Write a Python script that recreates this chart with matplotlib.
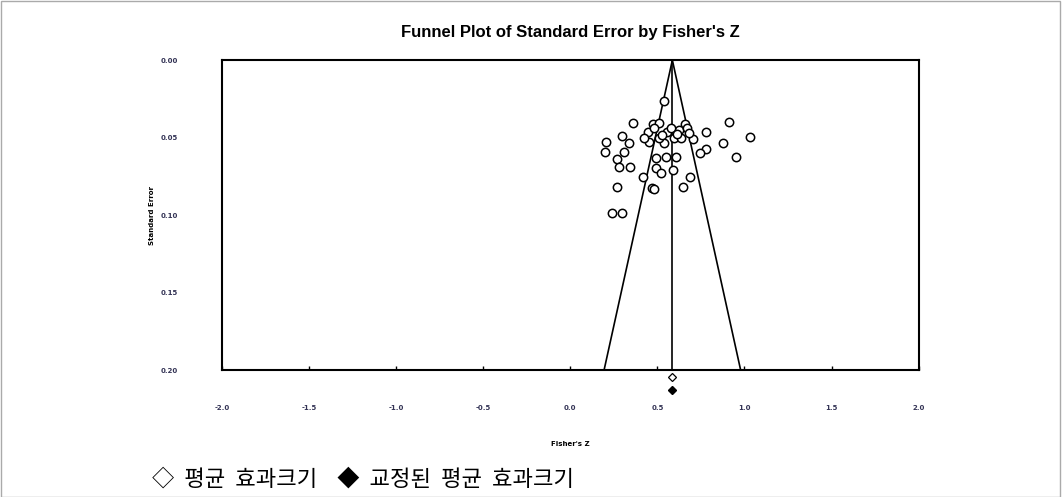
import matplotlib
matplotlib.use("Agg")
import matplotlib.pyplot as plt
from matplotlib.patches import Rectangle

# study effect sizes (Fisher's Z) and standard errors
fisher_z = [0.540, 0.362, 0.477, 0.511, 0.661, 0.914, 1.029, 0.782, 0.874, 0.954,
            0.782, 0.747, 0.707, 0.626, 0.557, 0.448, 0.299, 0.207, 0.201, 0.339,
            0.310, 0.270, 0.282, 0.345, 0.454, 0.540, 0.494, 0.552, 0.609, 0.494,
            0.523, 0.592, 0.420, 0.270, 0.471, 0.478, 0.649, 0.690, 0.241, 0.299,
            0.597, 0.638, 0.511, 0.483, 0.580, 0.672, 0.425, 0.615, 0.684, 0.529]
std_err = [0.0265, 0.0406, 0.0413, 0.0406, 0.0413, 0.0400, 0.0497, 0.0465, 0.0535, 0.0626,
           0.0574, 0.0600, 0.0510, 0.0452, 0.0465, 0.0465, 0.0490, 0.0529, 0.0594, 0.0535,
           0.0594, 0.0639, 0.0690, 0.0690, 0.0529, 0.0535, 0.0632, 0.0626, 0.0626, 0.0697,
           0.0729, 0.0710, 0.0755, 0.0819, 0.0826, 0.0830, 0.0819, 0.0755, 0.0987, 0.0987,
           0.0503, 0.0503, 0.0503, 0.0439, 0.0439, 0.0439, 0.0503, 0.0477, 0.0471, 0.0484]

mean_z = 0.586        # observed mean effect
adjusted_z = 0.586    # trim-and-fill adjusted mean
se_max = 0.20

x_ticks = [-2.0, -1.5, -1.0, -0.5, 0.0, 0.5, 1.0, 1.5, 2.0]
y_ticks = [0.00, 0.05, 0.10, 0.15, 0.20]

fig = plt.figure(figsize=(10.62, 4.97), dpi=100)
ax = fig.add_axes([0.209, 0.2555, 0.656, 0.6235])

# funnel and mean line
ax.plot([mean_z, mean_z], [0, se_max], color="black", lw=1.2)
ax.plot([mean_z, mean_z - 1.96 * se_max], [0, se_max], color="black", lw=1.2)
ax.plot([mean_z, mean_z + 1.96 * se_max], [0, se_max], color="black", lw=1.2)

ax.scatter(fisher_z, std_err, s=36, facecolors="white", edgecolors="black",
           linewidths=1.1, zorder=3)

# mean markers below the axis
ax.plot([mean_z], [0.2045], marker="D", ms=4, mfc="white", mec="black",
        mew=0.9, clip_on=False)
ax.plot([adjusted_z], [0.2129], marker="D", ms=4.5, mfc="black", mec="black",
        clip_on=False)

ax.set_xlim(-2.0, 2.0)
ax.set_ylim(se_max, 0.0)
ax.set_xticks(x_ticks)
ax.set_xticklabels(["%.1f" % v for v in x_ticks], fontsize=5, fontweight="bold",
                   color="#333355")
ax.set_yticks(y_ticks)
ax.set_yticklabels(["%.2f" % v for v in y_ticks], fontsize=5, fontweight="bold",
                   color="#333355")
ax.tick_params(axis="x", direction="in", length=3, width=1, pad=25)
ax.tick_params(axis="y", length=0, pad=32)
for sp in ax.spines.values():
    sp.set_linewidth(1.5)

ax.set_title("Funnel Plot of Standard Error by Fisher's Z", fontsize=12,
             fontweight="bold", family="Liberation Sans", pad=17)
ax.set_xlabel("Fisher's Z", fontsize=5, fontweight="bold", labelpad=22)
ax.set_ylabel("Standard Error", fontsize=5, fontweight="bold", labelpad=4)

fig.text(0.143, 0.022, "◇  평균  효과크기    ◆  교정된  평균  효과크기", fontsize=16,
         family=["Noto Sans CJK KR", "DejaVu Sans"], fontweight="light")

fig.patches.append(Rectangle((0.0005, 0.001), 0.998, 0.997, transform=fig.transFigure,
                             fill=False, edgecolor="#aaaaaa", lw=1))

fig.savefig("out.png", dpi=100)
